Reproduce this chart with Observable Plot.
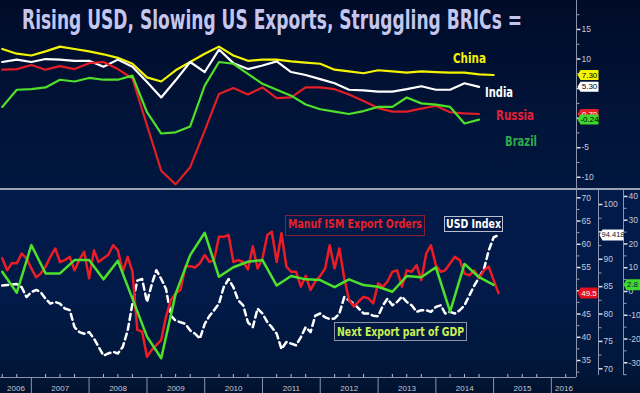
<!DOCTYPE html>
<html>
<head>
<meta charset="utf-8">
<script src="https://cdn.jsdelivr.net/npm/d3@7"></script>
<script src="https://cdn.jsdelivr.net/npm/@observablehq/plot@0.6"></script>
<style>
  html, body { margin: 0; padding: 0; background: #00112e; }
  #chart { position: relative; width: 640px; height: 393px; overflow: hidden;
    background: linear-gradient(to bottom, #000b28 0px, #011439 120px, #01173f 188px, #011a49 190px, #011a48 300px, #011637 377px, #00112c 393px); }
  .layer { position: absolute; left: 0; }
  .layer svg { display: block; }
  .rule { position: absolute; background: #8c94ab; }
  .lab { position: absolute; white-space: nowrap; font-weight: bold; line-height: 1; transform-origin: 0 0; }
  .box { position: absolute; box-sizing: border-box; border: 1px solid; }
</style>
</head>
<body>
<div id="chart"></div>
<script>
// ---------------- DATA ----------------
const QUARTER_START = "2006-07-01";   // first quarterly observation
const MONTH_START = "2006-07-01";     // first monthly observation

// BRICs real GDP growth, % y/y (quarterly)
const CHINA  = [11.7, 10.9, 10.6, 11.3, 12.1, 11.7, 11.3, 10.8, 10.2, 9.2, 6.9, 6.2, 8.1, 9.5, 10.9, 12.1, 10.6, 9.7, 9.9, 9.9, 9.6, 9.4, 9.2, 8.2, 7.9, 7.6, 8.1, 7.9, 7.7, 7.9, 7.8, 7.7, 7.7, 7.4, 7.3];
const INDIA  = [9.5, 9.9, 9.5, 10.0, 9.9, 9.7, 9.7, 8.7, 9.9, 8.7, 6.1, 3.5, 6.4, 9.5, 7.8, 11.6, 9.3, 8.3, 8.9, 9.6, 7.8, 7.3, 6.6, 5.9, 4.8, 4.7, 4.5, 4.5, 4.9, 5.4, 4.8, 4.8, 5.9, 5.3];
const RUSSIA = [8.2, 8.3, 9.0, 8.2, 8.8, 8.3, 9.3, 9.5, 8.3, 6.7, -1.2, -8.9, -11.2, -8.3, -2.1, 4.1, 5.1, 4.0, 5.2, 3.4, 3.5, 5.2, 5.2, 4.9, 4.0, 2.9, 1.7, 1.1, 1.1, 1.6, 2.1, 1.0, 0.8, 0.7];
const BRAZIL = [1.9, 4.8, 4.9, 5.2, 6.5, 6.2, 6.8, 6.5, 6.5, 7.2, 1.0, -2.6, -2.4, -1.4, 5.5, 9.5, 9.2, 7.5, 5.8, 4.8, 3.8, 2.3, 1.5, 1.1, 0.7, 1.2, 1.9, 1.9, 3.5, 2.5, 2.3, 1.9, -0.9, -0.24];

// ISM manufacturing new export orders (monthly)
const ISM_EXPORT_ORDERS = [
  57.0, 54.4, 56.0, 55.9, 58.0, 57.0, 54.8, 52.9, 53.7, 55.2,
  57.3, 59.1, 56.2, 56.6, 57.3, 54.4, 56.7, 58.4, 52.7, 58.7,
  56.2, 57.0, 57.7, 59.8, 58.7, 54.1, 57.3, 54.1, 41.6, 41.2,
  35.8, 37.3, 38.3, 39.4, 44.4, 48.0, 49.4, 50.2, 55.2, 55.3,
  55.0, 55.9, 57.7, 56.2, 56.6, 61.6, 61.6, 62.0, 56.2, 56.6,
  56.2, 54.6, 59.6, 54.8, 57.0, 62.0, 62.7, 56.2, 62.4, 55.2,
  54.1, 54.1, 50.9, 53.2, 50.2, 52.0, 53.2, 54.8, 59.8, 54.8,
  59.1, 52.7, 48.0, 46.6, 47.7, 48.7, 48.4, 47.3, 51.6, 50.9,
  52.0, 54.1, 54.4, 50.9, 54.4, 54.1, 55.5, 52.3, 58.0, 59.8,
  55.5, 54.1, 54.4, 55.9, 57.3, 56.6, 53.7, 53.3, 54.4, 52.7,
  54.4, 55.2, 52.3, 49.5];

// USD index (monthly)
const USD_INDEX = [
  85.2, 85.3, 85.4, 85.5, 84.9, 83.1, 84.0, 84.4, 84.0, 82.8,
  81.9, 82.2, 81.9, 81.0, 80.7, 77.6, 76.7, 76.4, 76.7, 75.5,
  74.0, 72.4, 72.8, 73.1, 72.8, 74.0, 77.0, 81.9, 86.1, 86.4,
  82.2, 85.5, 88.0, 86.4, 84.6, 79.7, 78.8, 78.5, 78.2, 77.0,
  76.4, 75.5, 78.2, 79.7, 80.7, 81.9, 84.9, 86.4, 84.9, 82.5,
  81.6, 78.5, 77.6, 81.0, 80.1, 78.5, 77.6, 76.4, 73.6, 74.9,
  74.6, 74.3, 75.8, 77.6, 76.7, 79.7, 80.1, 79.4, 79.1, 79.2,
  80.1, 83.1, 82.5, 81.9, 81.0, 80.1, 80.1, 79.7, 79.6, 81.6,
  82.8, 81.6, 82.2, 83.2, 82.2, 81.6, 80.4, 80.7, 80.7, 80.4,
  81.3, 81.6, 80.1, 80.4, 80.1, 80.7, 81.6, 83.4, 85.2, 86.7,
  88.2, 91.6, 94.0, 94.418];

// Net export part of GDP, % q/q annualised (quarterly)
const GDP_EXPORTS = [8.3, -0.5, 19.5, 7.6, 7.6, 13.2, 13.2, 5.1, 12.9, -3.0, -19.0, -28.1, -1.0, 15.3, 24.7, 6.2, 10.2, 12.5, 13.2, 2.5, 6.5, 5.1, 4.8, 1.8, 5.1, 2.7, 2.0, -0.1, 6.5, 6.0, 10.2, -8.5, 11.6, 6.0, 2.8];

// axis ticks (all tick marks) and the tick labels that are not hidden under value tags
const TOP_TICKS = [15, 10, 5, 0, -5, -10];
const TOP_LABELS = [15, 10, -5, -10];
const TOP_MINOR = [17.5, 12.5, 7.5, 2.5, -2.5, -7.5];
const ISM_TICKS = [70, 65, 60, 55, 50, 45, 40, 35];
const ISM_LABELS = [70, 65, 60, 55, 45, 40, 35];
const ISM_MINOR = [67.5, 62.5, 57.5, 52.5, 47.5, 42.5, 37.5, 32.5];
const USD_TICKS = [100, 95, 90, 85, 80, 75, 70];
const USD_LABELS = [100, 90, 85, 80, 75, 70];
const USD_MINOR = [97.5, 92.5, 87.5, 82.5, 77.5, 72.5];
const GDP_TICKS = [40, 30, 20, 10, 0, -10, -20, -30];
const GDP_LABELS = [40, 30, 20, 10, 0, -10, -20, -30];
const GDP_MINOR = [35, 25, 15, 5, -5, -15, -25, -35];
const YEARS = [2006, 2007, 2008, 2009, 2010, 2011, 2012, 2013, 2014, 2015, 2016];

// ---------------- LAYOUT ----------------
const FONT = '"Liberation Sans Narrow", "DejaVu Sans Condensed", "Roboto Condensed", "Liberation Sans", Roboto, sans-serif';
const AXIS_FONT = '"Liberation Sans Narrow", "Liberation Sans", Arial, sans-serif';
const X_DOMAIN = [new Date("2006-06-20"), new Date("2016-06-08")];
const X_RANGE = [0, 576];
const AXIS_TEXT = "#c3c9da";
const TICK = "#dfe4ee";

const qDate = i => d3.utcMonth.offset(new Date(QUARTER_START), 3 * i);
const mDate = i => d3.utcMonth.offset(new Date(MONTH_START), i);
const rows = (vals, dateFn) => vals.map((v, i) => ({date: dateFn(i), value: v}));
const fmtTag = (v, n) => (v < 0 ? "-" : "") + Math.abs(v).toFixed(n);

function tagSymbol(w, h) {
  return {draw(ctx) {
    ctx.moveTo(-w / 2 - 3, 0);
    ctx.lineTo(-w / 2, -h / 2);
    ctx.lineTo(w / 2, -h / 2);
    ctx.lineTo(w / 2, h / 2);
    ctx.lineTo(-w / 2, h / 2);
    ctx.closePath();
  }};
}
function tag(value, label, {bg, fg, w, h, dx, tdx, fontSize = 8}) {
  return [
    Plot.dot([value], {y: d => d, frameAnchor: "right", dx, symbol: tagSymbol(w, h), fill: bg}),
    Plot.text([value], {y: d => d, frameAnchor: "right", textAnchor: "middle", dx: tdx ?? dx, text: () => label, fill: fg, fontSize})
  ];
}
function yAxis(major, labels, minor) {
  return [
    Plot.axisY(minor, {anchor: "right", tickSize: 2.5, stroke: "#9aa2b8", fill: "none", label: null}),
    Plot.axisY(major, {anchor: "right", tickSize: 3.5, strokeWidth: 1.5, stroke: TICK, fill: "none", label: null}),
    Plot.axisY(labels, {anchor: "right", tickSize: 0, tickPadding: 5, fill: AXIS_TEXT, fontSize: 8.5, label: null, tickFormat: d => String(d)})
  ];
}
const baseStyle = {background: "transparent", color: AXIS_TEXT, fontFamily: AXIS_FONT, overflow: "visible"};

const chart = document.getElementById("chart");
function layer(node, top) {
  const d = document.createElement("div");
  d.className = "layer";
  d.style.top = top + "px";
  d.appendChild(node);
  chart.appendChild(d);
}
function rule(left, top, width, height, color) {
  const d = document.createElement("div");
  d.className = "rule";
  Object.assign(d.style, {left: left + "px", top: top + "px", width: width + "px", height: height + "px"});
  if (color) d.style.background = color;
  chart.appendChild(d);
}
function addText(txt, {left, top, size, color, width}) {
  const el = document.createElement("div");
  el.className = "lab";
  el.textContent = txt;
  Object.assign(el.style, {left: left + "px", top: top + "px", fontSize: size + "px", color, fontFamily: FONT});
  chart.appendChild(el);
  const w = el.getBoundingClientRect().width;
  if (width && w > 0) el.style.transform = `scaleX(${width / w})`;
  return el;
}
function addBox(left, top, width, height, border) {
  const b = document.createElement("div");
  b.className = "box";
  Object.assign(b.style, {left: left + "px", top: top + "px", width: width + "px", height: height + "px", borderColor: border});
  chart.appendChild(b);
}

// frame rules (decoration)
rule(576, 0, 1, 188);
rule(0, 188, 640, 2, "#9aa2b8");
rule(576, 190, 1, 187);
rule(598, 190, 1, 185);
rule(623, 190, 1, 185);
rule(0, 377, 576, 1);

// ---------------- TOP PANEL: BRICs ----------------
const brics = [
  {name: "China", values: CHINA, color: "#f4f400", bg: "#f4f400", fg: "#000"},
  {name: "India", values: INDIA, color: "#ffffff", bg: "#ffffff", fg: "#000"},
  {name: "Russia", values: RUSSIA, color: "#e41e26", bg: "#e41e26", fg: "#fff"},
  {name: "Brazil", values: BRAZIL, color: "#4fe02a", bg: "#3fd82c", fg: "#000"}
];
const topPlot = Plot.plot({
  width: 640, height: 188, marginLeft: 0, marginRight: 64, marginTop: 0, marginBottom: 0,
  style: baseStyle,
  x: {domain: X_DOMAIN, range: X_RANGE, axis: null},
  y: {domain: [-11.9, 19.9], axis: null},
  marks: [
    ...yAxis(TOP_TICKS, TOP_LABELS, TOP_MINOR),
    ...brics.map(s => Plot.line(rows(s.values, qDate), {x: "date", y: "value", stroke: s.color, strokeWidth: 2.2})),
    ...brics.flatMap(s => {
      const last = s.values[s.values.length - 1];
      return tag(last, fmtTag(last, 2), {bg: s.bg, fg: s.fg, w: 18, h: 10, dx: 13});
    })
  ]
});
layer(topPlot, 0);

// ---------------- BOTTOM PANEL ----------------
const BOTTOM = {width: 640, height: 203, marginLeft: 0, marginTop: 0, marginBottom: 16};

// USD index (own axis at x=598)
const usdPlot = Plot.plot({
  ...BOTTOM, marginRight: 42, style: baseStyle,
  x: {domain: X_DOMAIN, range: X_RANGE, axis: null},
  y: {domain: [68.41, 102.56], axis: null},
  marks: [
    ...yAxis(USD_TICKS, USD_LABELS, USD_MINOR),
    Plot.line(rows(USD_INDEX, mDate), {x: "date", y: "value", stroke: "#ffffff", strokeWidth: 2.5, strokeDasharray: "6,4"}),
    ...tag(USD_INDEX[USD_INDEX.length - 1], fmtTag(USD_INDEX[USD_INDEX.length - 1], 3), {bg: "#ffffff", fg: "#0a1a3a", w: 21, h: 11, dx: 14.5, fontSize: 7.5})
  ]
});

// year labels centred in the visible part of each year
const yearStart = y => new Date(Date.UTC(y, 0, 1));
const yearMid = y => {
  const a = Math.max(+yearStart(y), +X_DOMAIN[0]);
  const b = Math.min(+yearStart(y + 1), +X_DOMAIN[1]);
  return new Date((a + b) / 2);
};
const quarterTicks = d3.utcMonth.every(3).range(X_DOMAIN[0], X_DOMAIN[1]).filter(d => d.getUTCMonth() !== 0);

const ismPlot = Plot.plot({
  ...BOTTOM, marginRight: 64, style: baseStyle,
  x: {domain: X_DOMAIN, range: X_RANGE, axis: null},
  y: {domain: [31.35, 71.57], axis: null},
  marks: [
    Plot.axisX(YEARS.slice(1).map(yearStart), {anchor: "bottom", tickSize: 16, stroke: "#8c94ab", fill: "none", label: null}),
    Plot.axisX(YEARS.map(yearMid), {anchor: "bottom", tickSize: 0, tickPadding: 8, tickFormat: d3.utcFormat("%Y"), fontSize: 8, fill: AXIS_TEXT, label: null}),
    Plot.tickX(quarterTicks, {x: d => d, insetTop: 184, stroke: "#b8bfd0"}),
    ...yAxis(ISM_TICKS, ISM_LABELS, ISM_MINOR),
    Plot.line(rows(ISM_EXPORT_ORDERS, mDate), {x: "date", y: "value", stroke: "#ee1c25", strokeWidth: 2.5}),
    ...tag(ISM_EXPORT_ORDERS[ISM_EXPORT_ORDERS.length - 1], fmtTag(ISM_EXPORT_ORDERS[ISM_EXPORT_ORDERS.length - 1], 1), {bg: "#e3101e", fg: "#ffffff", w: 17, h: 11, dx: 12.5})
  ]
});

const gdpPlot = Plot.plot({
  ...BOTTOM, marginRight: 17, style: baseStyle,
  x: {domain: X_DOMAIN, range: X_RANGE, axis: null},
  y: {domain: [-36.2, 42.5], axis: null},
  marks: [
    ...yAxis(GDP_TICKS, GDP_LABELS, GDP_MINOR),
    Plot.line(rows(GDP_EXPORTS, qDate), {x: "date", y: "value", stroke: "#4ee02a", strokeWidth: 2.5}),
    ...tag(GDP_EXPORTS[GDP_EXPORTS.length - 1], fmtTag(GDP_EXPORTS[GDP_EXPORTS.length - 1], 1), {bg: "#3fd82c", fg: "#0a1a3a", w: 18, h: 11, dx: 12, tdx: 9})
  ]
});

layer(usdPlot, 190);
layer(ismPlot, 190);
layer(gdpPlot, 190);

// ---------------- TEXT ----------------
addText("Rising USD, Slowing US Exports, Struggling BRICs =", {left: 22, top: 7, size: 26, color: "#c4c6ee", width: 500});

addText("China", {left: 453, top: 50.5, size: 14, color: "#f2f200", width: 33});
addText("India", {left: 485, top: 84.8, size: 14, color: "#ffffff", width: 28});
addText("Russia", {left: 496, top: 108.2, size: 14, color: "#e3203a", width: 38});
addText("Brazil", {left: 505, top: 133.5, size: 14, color: "#2faa4a", width: 32});

addBox(285, 215, 140, 21, "#8a1c33");
addText("Manuf ISM Export Orders", {left: 288, top: 218, size: 12.5, color: "#e8202a", width: 134});
addBox(444, 216, 59, 16, "#b8bfcf");
addText("USD Index", {left: 446, top: 217.5, size: 12.5, color: "#ffffff", width: 55});
addBox(334, 322, 133, 19, "#8d94a6");
addText("Next Export part of GDP", {left: 337, top: 325, size: 13, color: "#ccee55", width: 127});
</script>
</body>
</html>
